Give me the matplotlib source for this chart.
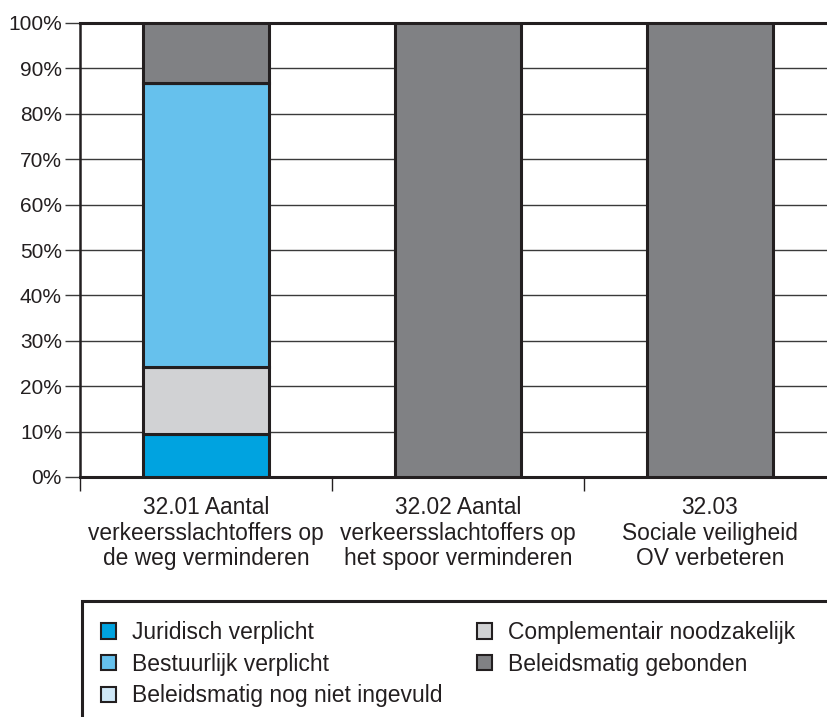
import matplotlib.pyplot as plt
from matplotlib.patches import Patch, Rectangle
from matplotlib.ticker import FixedLocator, PercentFormatter

plt.rcParams['font.family'] = ['Liberation Sans', 'DejaVu Sans']

categories = [
    "32.01 Aantal\nverkeersslachtoffers op\nde weg verminderen",
    "32.02 Aantal\nverkeersslachtoffers op\nhet spoor verminderen",
    "32.03\nSociale veiligheid\nOV verbeteren",
]
juridisch = [9.4, 0, 0]
complementair = [14.8, 0, 0]
bestuurlijk = [62.5, 0, 0]
nog_niet = [0, 0, 0]
gebonden = [13.3, 100, 100]

series = [
    ("Juridisch verplicht", juridisch, "#00a3e0"),
    ("Complementair noodzakelijk", complementair, "#d1d2d4"),
    ("Bestuurlijk verplicht", bestuurlijk, "#66c1ed"),
    ("Beleidsmatig nog niet ingevuld", nog_niet, "#cfe8f7"),
    ("Beleidsmatig gebonden", gebonden, "#808184"),
]
legend_order = ["Juridisch verplicht", "Bestuurlijk verplicht",
                "Beleidsmatig nog niet ingevuld",
                "Complementair noodzakelijk", "Beleidsmatig gebonden"]

dark = "#231f20"
fig = plt.figure(figsize=(8.28, 7.17), dpi=100)
ax = fig.add_axes([80 / 828, 1 - 477 / 717, 1 - 80 / 828, (477 - 23) / 717])

x = list(range(len(categories)))
bottom = [0, 0, 0]
colors = {}
for name, vals, col in series:
    colors[name] = col
    ax.bar(x, vals, 0.5, bottom=bottom, color=col, edgecolor=dark,
           linewidth=2.2, zorder=3)
    bottom = [b + v for b, v in zip(bottom, vals)]

ax.set_xlim(-0.5, 2.468)
ax.set_ylim(0, 100)
ax.set_yticks(range(0, 101, 10))
ax.yaxis.set_major_formatter(PercentFormatter(decimals=0))
ax.grid(axis='y', color='#3a3a3a', linewidth=1.0, zorder=0)
ax.set_xticks(x)
ax.set_xticklabels(categories, fontsize=16.4, color=dark, linespacing=1.13)
ax.xaxis.set_minor_locator(FixedLocator([-0.5, 0.5, 1.5]))
ax.tick_params(axis='x', which='major', length=0, pad=14)
ax.tick_params(axis='x', which='minor', length=10, width=1.0, color=dark)
ax.tick_params(axis='y', length=11, width=1.0, color='#3a3a3a',
               labelsize=15, labelcolor=dark, pad=2)
ax.spines['right'].set_visible(False)
for s in ['top', 'bottom']:
    ax.spines[s].set_linewidth(2.2)
    ax.spines[s].set_color(dark)
ax.spines['left'].set_linewidth(1.8)
ax.spines['left'].set_color(dark)

# legend box
fig.patches.append(Rectangle((82 / 828, -0.1), 1.0, (717 - 601) / 717 + 0.1,
                             transform=fig.transFigure, fill=False,
                             edgecolor=dark, linewidth=2.2))
handles = [Patch(facecolor=colors[n], edgecolor=dark, linewidth=1.5)
           for n in legend_order]
fig.legend(handles, legend_order, ncol=2, frameon=False, fontsize=16.5,
           loc='upper left', bbox_to_anchor=(101 / 828, 1 - 621 / 717),
           handlelength=0.66, handleheight=0.66, handletextpad=0.7,
           labelspacing=0.38, columnspacing=1.5, borderaxespad=0,
           borderpad=0, labelcolor=dark)

fig.savefig("out.png", dpi=100)
